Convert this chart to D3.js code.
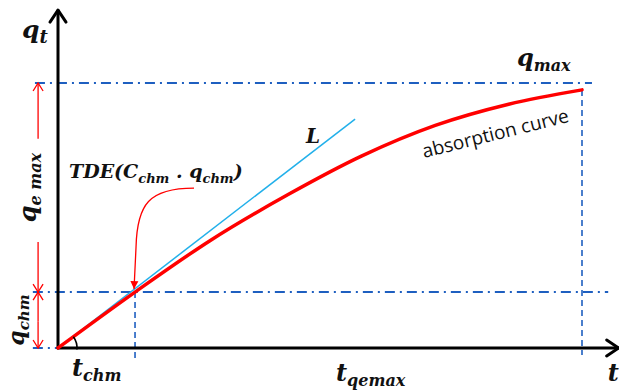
<!DOCTYPE html>
<html>
<head>
<meta charset="utf-8">
<script src="https://cdn.jsdelivr.net/npm/d3@7"></script>
<style>
  body { margin: 0; background: #fff; }
  svg { display: block; }
  .math { font-family: "DejaVu Serif", serif; font-weight: bold; font-style: italic; fill: #111; }
</style>
</head>
<body>
<div id="chart"></div>
<script>
// absorption curve (t, q) in relative units, t_qemax = 100, q_max = 100
var curveT = [0, 14.7, 29, 44, 58, 72, 86, 100];
var curveQ = [0, 21.1, 40.5, 58, 72.5, 84, 92, 97.4];
// tangent line L
var tangentT = [0, 56.7];
var tangentQ = [0, 86.4];
// reference values
var tChm = 14.7, qChm = 21.1, tQemax = 100, qMax = 100;

var width = 619, height = 392;
var blue = "#1e5fc0", red = "#ff0000";

var x = d3.scaleLinear().domain([0, 100]).range([58, 582]);
var y = d3.scaleLinear().domain([0, 100]).range([348, 83]);

var svg = d3.select("#chart").append("svg")
    .attr("width", width)
    .attr("height", height);

var defs = svg.append("defs");
defs.append("marker")
    .attr("id", "redhead")
    .attr("viewBox", "-10 -6 12 12")
    .attr("markerWidth", 12).attr("markerHeight", 12)
    .attr("markerUnits", "userSpaceOnUse")
    .attr("orient", "auto-start-reverse")
    .append("path")
    .attr("d", "M-8,-5 L0,0 L-8,5")
    .attr("fill", "none").attr("stroke", red).attr("stroke-width", 1.3);
defs.append("marker")
    .attr("id", "redfill")
    .attr("viewBox", "-10 -6 12 12")
    .attr("markerWidth", 12).attr("markerHeight", 12)
    .attr("markerUnits", "userSpaceOnUse")
    .attr("orient", "auto")
    .append("path")
    .attr("d", "M-8,-4 L0,0 L-8,4 Z")
    .attr("fill", red);

// guide lines (dash-dot)
function hline(t0, t1, q, dash){
    svg.append("line")
        .attr("x1", x(t0)).attr("x2", x(t1))
        .attr("y1", y(q)).attr("y2", y(q))
        .attr("stroke", blue).attr("stroke-width", 2)
        .attr("stroke-dasharray", dash);
}
function vline(t, q0, q1){
    svg.append("line")
        .attr("x1", x(t)).attr("x2", x(t))
        .attr("y1", y(q0)).attr("y2", y(q1))
        .attr("stroke", blue).attr("stroke-width", 1.6)
        .attr("stroke-dasharray", "6,4");
}
hline(-4.4, 101.9, qMax, "10,5,2,5");
hline(-4.8, 105, qChm, "10,5,2,5");
hline(-4.8, 0, 0, "10,5,2,5");
vline(tChm, qChm, -4.5);
vline(tQemax, curveQ[curveQ.length - 1], -2.6);

// axes with arrow heads
var axisG = svg.append("g").attr("stroke", "#000").attr("fill", "none")
    .attr("stroke-width", 3).attr("stroke-linecap", "round").attr("stroke-linejoin", "round");
axisG.append("line").attr("x1", x(0)).attr("y1", y(0)).attr("x2", x(0)).attr("y2", y(127.5));
axisG.append("line").attr("x1", x(0)).attr("y1", y(0)).attr("x2", x(107)).attr("y2", y(0));
axisG.append("path").attr("d", "M" + (x(0) - 8) + "," + (y(127.5) + 12) + "L" + x(0) + "," + y(127.5) + "L" + (x(0) + 8) + "," + (y(127.5) + 12));
axisG.append("path").attr("d", "M" + (x(107) - 12) + "," + (y(0) - 8) + "L" + x(107) + "," + y(0) + "L" + (x(107) - 12) + "," + (y(0) + 8));

// tangent L
var line = d3.line().x(function(d){ return x(d[0]); }).y(function(d){ return y(d[1]); });
svg.append("path")
    .datum(d3.zip(tangentT, tangentQ))
    .attr("d", line)
    .attr("fill", "none").attr("stroke", "#22b0ea").attr("stroke-width", 1.5);

// absorption curve
svg.append("path")
    .datum(d3.zip(curveT, curveQ))
    .attr("d", line.curve(d3.curveMonotoneX))
    .attr("fill", "none").attr("stroke", red).attr("stroke-width", 3.5)
    .attr("stroke-linecap", "round");

// angle arc at origin
var ang = Math.atan2(y(0) - y(qChm), x(tChm) - x(0));
var p = d3.path();
p.arc(x(0), y(0), 19, 0.08, -ang, true);
svg.append("path").attr("d", p.toString())
    .attr("fill", "none").attr("stroke", "#000").attr("stroke-width", 1.6);

// red dimension arrows on the left
var dimT = -3.8;
function dim(q0, q1){
    svg.append("line")
        .attr("x1", x(dimT)).attr("x2", x(dimT))
        .attr("y1", y(q0)).attr("y2", y(q1))
        .attr("stroke", red).attr("stroke-width", 1.3)
        .attr("marker-end", "url(#redhead)");
}
dim(79, qMax);
dim(40, qChm);
dim(10, qChm);
dim(10, 0);
svg.append("line")
    .attr("x1", x(dimT)).attr("x2", x(dimT))
    .attr("y1", y(qChm) - 1).attr("y2", y(qChm) + 1)
    .attr("stroke", red).attr("stroke-width", 1.3);

// annotation arrow to the TDE point
var ax = x(tChm), ay = y(qChm);
svg.append("path")
    .attr("d", "M" + (ax + 59) + "," + (ay - 104) +
        "C" + (ax + 14) + "," + (ay - 104) + " " + (ax + 2) + "," + (ay - 88) + " " + (ax + 1) + "," + (ay - 45) +
        "L" + (ax - 1) + "," + (ay - 3))
    .attr("fill", "none").attr("stroke", red).attr("stroke-width", 1.3)
    .attr("marker-end", "url(#redfill)");

// labels
function mathLabel(px, py, parts, opts){
    opts = opts || {};
    var t = svg.append("text").attr("class", "math")
        .attr("x", px).attr("y", py);
    if (opts.rotate) t.attr("transform", "rotate(" + opts.rotate + "," + px + "," + py + ")");
    if (opts.anchor) t.attr("text-anchor", opts.anchor);
    var base = 0;
    parts.forEach(function(pt){
        var dy = (pt.sub ? 5 : 0) - base;
        base = pt.sub ? 5 : 0;
        t.append("tspan").attr("dy", dy).style("font-size", pt.size + "px").text(pt.s);
    });
    return t;
}
mathLabel(x(0) - 36, 38, [{s: "q", size: 25}, {s: "t", size: 18, sub: true}]);
mathLabel(x(tQemax) - 65, y(qMax) - 17, [{s: "q", size: 24}, {s: "max", size: 16, sub: true}]);
mathLabel(x(tChm) - 63, y(0) + 28, [{s: "t", size: 24}, {s: "chm", size: 16, sub: true}]);
mathLabel(x(tQemax) - 246, y(0) + 33, [{s: "t", size: 24}, {s: "qemax", size: 16, sub: true}]);
mathLabel(x(107) - 11, y(0) + 33, [{s: "t", size: 24}]);
mathLabel(x(tChm) - 66, y(qChm) - 114, [
    {s: "TDE(C", size: 19}, {s: "chm", size: 13, sub: true},
    {s: " . q", size: 19}, {s: "chm", size: 13, sub: true}, {s: ")", size: 19}]);
mathLabel(x(tangentT[1]) - 49, y(tangentQ[1]) + 24, [{s: "L", size: 20}]);
mathLabel(x(dimT) - 2, y((qMax + qChm) / 2), [{s: "q", size: 24}, {s: "e max", size: 16, sub: true}],
    {rotate: -90, anchor: "middle"});
mathLabel(x(dimT) - 14, y(qChm / 2), [{s: "q", size: 22}, {s: "chm", size: 15, sub: true}],
    {rotate: -90, anchor: "middle"});

svg.append("text")
    .attr("transform", "translate(" + (x(tQemax) - 158) + "," + (y(qMax) + 75) + ") rotate(-14)")
    .style("font-family", "'Open Sans', sans-serif")
    .style("font-size", "19px")
    .attr("fill", "#111")
    .text("absorption curve");
</script>
</body>
</html>
